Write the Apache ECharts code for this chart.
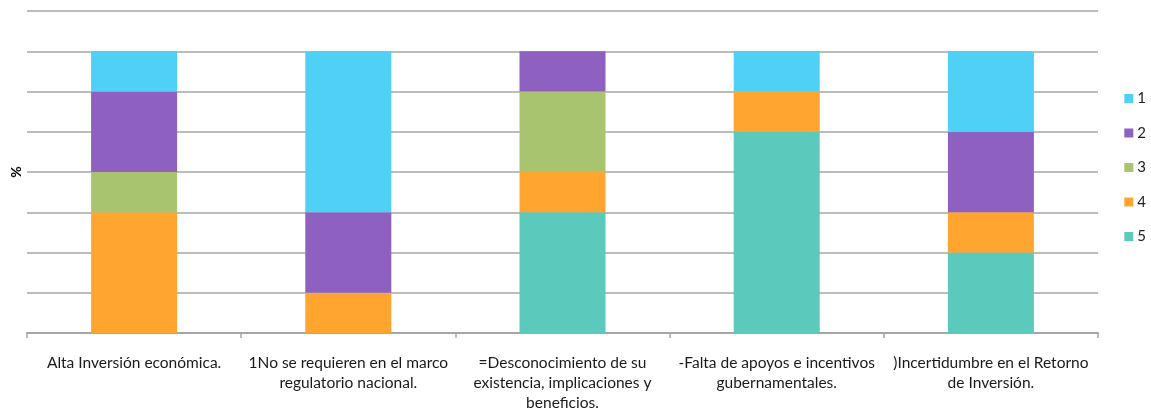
<!DOCTYPE html>
<html>
<head>
<meta charset="utf-8">
<script src="https://cdn.jsdelivr.net/npm/echarts@6/dist/echarts.min.js"></script>
<style>
  html, body { margin: 0; padding: 0; background: #fff; }
  #chart { width: 1151px; height: 411px; }
</style>
</head>
<body>
<div id="chart"></div>
<script>
// Categories (line breaks placed as they appear under the axis)
const categories = [
  'Alta Inversión económica.',
  '1No se requieren en el marco\nregulatorio nacional.',
  '=Desconocimiento de su\nexistencia, implicaciones y\nbeneficios.',
  '-Falta de apoyos e incentivos\ngubernamentales.',
  ')Incertidumbre en el Retorno\nde Inversión.'
];

// Responses per rating, one value per category
const rating1 = [1, 4, 0, 1, 2];
const rating2 = [2, 2, 1, 0, 2];
const rating3 = [1, 0, 2, 0, 0];
const rating4 = [3, 1, 1, 1, 1];
const rating5 = [0, 0, 3, 5, 2];

const seriesNames = ['1', '2', '3', '4', '5'];
const seriesData = [rating1, rating2, rating3, rating4, rating5];
const colors = ['#4FD1F5', '#8E60C0', '#A9C46E', '#FFA530', '#5BC9BB'];

const chart = echarts.init(document.getElementById('chart'));

// Stack from the bottom: 5, 4, 3, 2, 1
const series = [];
for (let i = seriesNames.length - 1; i >= 0; i--) {
  series.push({
    name: seriesNames[i],
    type: 'bar',
    stack: 'total',
    barWidth: 86,
    data: seriesData[i],
    itemStyle: { color: colors[i] }
  });
}

chart.setOption({
  animation: false,
  textStyle: { fontFamily: 'Lato, "Open Sans", sans-serif' },
  grid: { left: 27, right: 53, top: 11, bottom: 78, containLabel: false, outerBoundsMode: 'none' },
  legend: {
    data: seriesNames,
    orient: 'vertical',
    right: 0,
    top: 86,
    itemWidth: 9,
    itemHeight: 9,
    itemGap: 19.5,
    icon: 'rect',
    textStyle: { fontSize: 15, color: '#222', padding: [0, 0, 0, -1] }
  },
  xAxis: {
    type: 'category',
    data: categories,
    axisLine: { lineStyle: { color: '#A6A6A6', width: 2 } },
    axisTick: { show: true, alignWithLabel: false, length: 5, lineStyle: { color: '#A6A6A6', width: 1.5 } },
    axisLabel: {
      interval: 0,
      margin: 20,
      fontSize: 15.5,
      lineHeight: 20,
      color: '#1a1a1a'
    }
  },
  yAxis: {
    type: 'value',
    min: 0,
    max: 8,
    interval: 1,
    name: '%',
    nameLocation: 'middle',
    nameRotate: 90,
    nameGap: 4,
    nameTextStyle: { fontSize: 14, color: '#000', fontWeight: 'bold' },
    axisLabel: { show: false },
    axisLine: { show: false },
    axisTick: { show: false },
    splitLine: { lineStyle: { color: '#A6A6A6', width: 1.5 } }
  },
  series: series
});
</script>
</body>
</html>
